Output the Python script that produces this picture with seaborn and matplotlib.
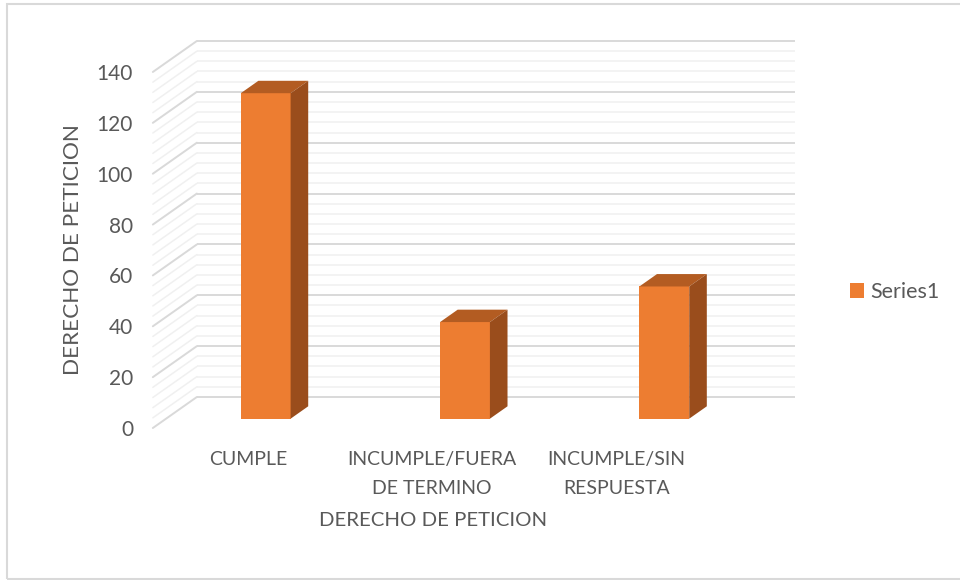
import matplotlib.pyplot as plt
import seaborn as sns
import pandas as pd
import numpy as np
from matplotlib.patches import Polygon, Rectangle

# Data
categories = ['CUMPLE', 'INCUMPLE/FUERA\nDE TERMINO', 'INCUMPLE/SIN\nRESPUESTA']
values = [128, 38, 52]
series_name = 'Series1'
y_ticks = [0, 20, 40, 60, 80, 100, 120, 140]
axis_title = 'DERECHO DE PETICION'

df = pd.DataFrame({'Categoria': categories, 'Valor': values})

# Colors (Excel orange with darker shaded faces)
front_col = '#ED7D31'
top_col = '#B35C22'
side_col = '#9A4D1C'
text_col = '#595959'
major_col = '#D9D9D9'
minor_col = '#F0F0F0'

sns.set_theme(style='white')
plt.rcParams['font.family'] = ['Lato', 'DejaVu Sans']

W, H = 960, 580
fig = plt.figure(figsize=(W / 100, H / 100), dpi=100)

# Place the axes so that one category unit / one value unit map to the
# reference's pixel spacing
x0_px, ux = 265.7, 199.3
y0_px, uy = 418.7, 2.543
xlim = (-0.62, 2.72)
ylim = (-6, 150)
left = x0_px + xlim[0] * ux
right = x0_px + xlim[1] * ux
bottom = y0_px - ylim[0] * uy
top = y0_px - ylim[1] * uy
ax = fig.add_axes([left / W, 1 - bottom / H, (right - left) / W, (bottom - top) / H])

# Oblique depth of the whole floor (in data units) and where the bars sit in it
depth_dx, depth_dy = 44 / ux, 31 / uy
bar_front, bar_back = 0.3, 0.7

sns.barplot(data=df, x='Categoria', y='Valor', color=front_col, saturation=1,
            width=0.25, linewidth=0, ax=ax)

# Back wall and left wall gridlines
wall_dx = (1 - bar_front) * depth_dx
wall_dy = (1 - bar_front) * depth_dy
n = len(categories)
for v in np.arange(0, y_ticks[-1] + 1, 4):
    col = major_col if v % 20 == 0 else minor_col
    lw = 1.4 if v % 20 == 0 else 1.1
    ax.plot([-0.5 + wall_dx, n - 0.5 + wall_dx], [v + wall_dy, v + wall_dy],
            color=col, lw=lw, zorder=1, solid_capstyle='butt')
    ax.plot([-0.5 - bar_front * depth_dx, -0.5 + wall_dx],
            [v - bar_front * depth_dy, v + wall_dy],
            color=col, lw=lw, zorder=1)

# 3D top and side faces of each bar
bdx = (bar_back - bar_front) * depth_dx
bdy = (bar_back - bar_front) * depth_dy
for p in list(ax.patches):
    p.set_zorder(3)
    x, w, h = p.get_x(), p.get_width(), p.get_height()
    ax.add_patch(Polygon([(x, h), (x + w, h), (x + w + bdx, h + bdy), (x + bdx, h + bdy)],
                         closed=True, facecolor=top_col, edgecolor='none', zorder=3))
    ax.add_patch(Polygon([(x + w, 0), (x + w + bdx, bdy), (x + w + bdx, h + bdy), (x + w, h)],
                         closed=True, facecolor=side_col, edgecolor='none', zorder=3))

ax.set_xlim(xlim)
ax.set_ylim(ylim)

# Ticks sit on the front edge of the floor; Excel's perspective pulls the
# category labels slightly left
ax.set_yticks([v - bar_front * depth_dy for v in y_ticks], labels=[str(v) for v in y_ticks])
label_pos = np.arange(n) * 0.925 - 0.09
ax.set_xticks(label_pos, labels=categories, linespacing=1.85)
ax.tick_params(axis='y', length=0, pad=6.5, labelsize=15, labelcolor=text_col)
ax.tick_params(axis='x', length=0, pad=12, labelsize=14, labelcolor=text_col)

ax.set_xlabel(axis_title, fontsize=14.7, color=text_col)
ax.set_ylabel(axis_title, fontsize=16.2, color=text_col)
ax.xaxis.label.set_va('center')
ax.yaxis.label.set_va('center')
ax.xaxis.set_label_coords((433.5 - left) / (right - left), (bottom - 521) / (bottom - top))
ax.yaxis.set_label_coords((73 - left) / (right - left), (bottom - 250) / (bottom - top))

for s in ax.spines.values():
    s.set_visible(False)

# Legend
handle = Rectangle((0, 0), 1, 1, facecolor=front_col, edgecolor='none')
leg = fig.legend(handles=[handle], labels=[series_name], loc='center left',
                 bbox_to_anchor=(850 / W, 1 - 292 / H), frameon=False,
                 handlelength=0.65, handleheight=0.65, handletextpad=0.3,
                 borderpad=0, borderaxespad=0, fontsize=15.5)
for t in leg.get_texts():
    t.set_color(text_col)

# Chart frame
fig.add_artist(Rectangle((7 / W, 1 - 579 / H), (W + 10) / W, 575 / H,
                         transform=fig.transFigure, fill=False,
                         edgecolor=major_col, lw=1.5))

fig.savefig('out.png', dpi=100)
